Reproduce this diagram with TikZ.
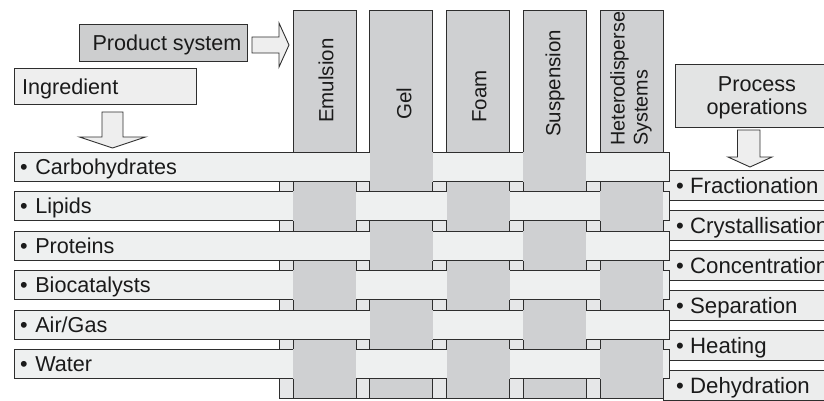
\documentclass[tikz,border=0pt]{standalone}
\usepackage{fontspec}
\setmainfont{Liberation Sans}
\definecolor{weavegray}{HTML}{CFD0D2}
\definecolor{weavelight}{HTML}{EEF0F0}
\definecolor{weaveback}{HTML}{E6E7E8}
\definecolor{inkline}{HTML}{2E2E2E}
\definecolor{inktext}{HTML}{1A1A1A}
\definecolor{procfill}{HTML}{ECEDED}
\definecolor{headfill}{HTML}{E3E4E4}
\definecolor{prodfill}{HTML}{CDCECF}
\definecolor{ingfill}{HTML}{EEEEEE}
\tikzset{
  outline/.style={draw=inkline, line width=0.9pt},
  colstrip/.style={outline, fill=weavegray},
  rowstrip/.style={outline, fill=weavelight},
  crossing/.style={fill=weavegray},
  procbox/.style={outline, fill=procfill},
  blockarrow/.style={outline, fill=ingfill, line join=miter},
  lbl/.style={font=\fontsize{21.6}{23.3}\selectfont, text=inktext, inner sep=0pt},
  biglbl/.style={font=\fontsize{22.2}{23.3}\selectfont, text=inktext, inner sep=0pt},
  collbl/.style={font=\fontsize{20.5}{23}\selectfont, text=inktext, inner sep=0pt,
                 rotate=90, anchor=west, align=left},
}
% one ingredient strip: name, top edge, label, columns that pass over it
\newcommand\ingrow[4]{%
  \draw[rowstrip] (14,#2) rectangle (669,#2+29);
  \foreach \xl in {#4} {\fill[crossing] (\xl,#2-0.5) rectangle (\xl+63,#2+29.5);}
  \node[lbl, anchor=base west] (#1) at (20,#2+22) {•\hspace{0.35em}#3};
}
% one process operation box: name, top edge, label
\newcommand\procrow[3]{%
  \draw[procbox] (663,#2) rectangle (840,#2+30);
  \node[biglbl, anchor=base west] (#1) at (676,#2+23) {• #3};
}
\begin{document}
\begin{tikzpicture}[x=1pt, y=-1pt]
\useasboundingbox (0,0) rectangle (824,401);

% headings
\draw[outline, fill=prodfill] (79,24) rectangle (247,61);
\node[lbl, anchor=base] (prod) at (167,50.7) {Product system};
\draw[blockarrow] (252,37) -- (279,37) -- (279,23) -- (289,45) -- (279,67) -- (279,53) -- (252,53) -- cycle;

\draw[outline, fill=ingfill] (14,68) rectangle (196,104);
\node[lbl, anchor=base west] (ing) at (22,95) {Ingredient};
\draw[blockarrow] (102,112) -- (123,112) -- (123,137) -- (145.5,137) -- (112.5,148) -- (79.5,137) -- (102,137) -- cycle;

\draw[outline, fill=headfill] (675,64) rectangle (840,127);
\node[lbl, align=center] (proc) at (757,98) {Process\\operations};
\draw[blockarrow] (737.5,130) -- (760,130) -- (760,157) -- (772,157) -- (750,167) -- (728,157) -- (737.5,157) -- cycle;

% backing behind the weave
\draw[outline, fill=weaveback] (279,165) rectangle (669,398);

% process operations
\procrow{frac}{170}{Fractionation}
\procrow{cryst}{210}{Crystallisation}
\procrow{conc}{250}{Concentration}
\procrow{sep}{290}{Separation}
\procrow{heat}{330}{Heating}
\procrow{dehyd}{370}{Dehydration}

% product system columns
\foreach \xl in {293,369.5,446.5,523,600} {\draw[colstrip] (\xl,10) rectangle ++(63,388);}
\node[collbl] (emul) at (326,123) {Emulsion};
\node[collbl] (gel) at (404,120) {Gel};
\node[collbl] (foam) at (479.5,123) {Foam};
\node[collbl] (susp) at (555,137) {Suspension};
\node[collbl, font=\fontsize{19.8}{23}\selectfont] (hetero) at (631,146) {Heterodisperse\\Systems};

% ingredient rows woven through the columns
\ingrow{carb}{152}{Carbohydrates}{369.5,523}
\ingrow{lip}{191.5}{Lipids}{293,446.5,600}
\ingrow{prot}{231}{Proteins}{369.5,523}
\ingrow{bio}{270.5}{Biocatalysts}{293,446.5,600}
\ingrow{air}{310}{Air/Gas}{369.5,523}
\ingrow{water}{349}{Water}{293,446.5,600}
\end{tikzpicture}
\end{document}
